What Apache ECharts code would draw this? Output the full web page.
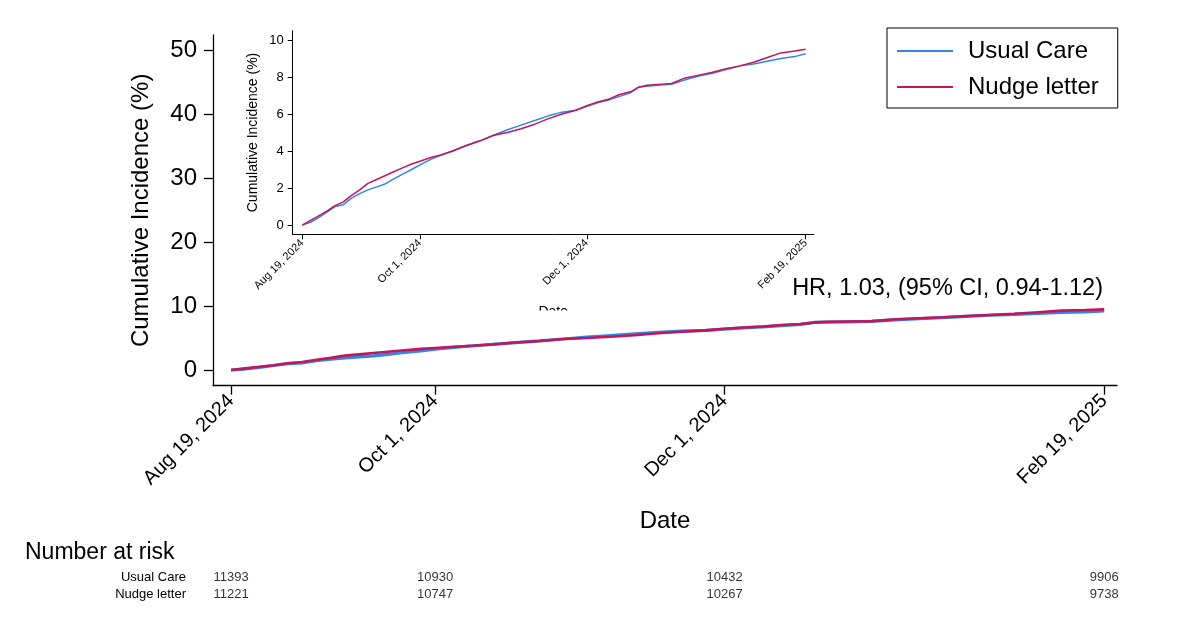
<!DOCTYPE html>
<html>
<head>
<meta charset="utf-8">
<script src="https://cdn.jsdelivr.net/npm/echarts@6/dist/echarts.min.js"></script>
<style>html,body{margin:0;padding:0;background:#fff}#c{width:1200px;height:630px}</style>
</head>
<body>
<div id="c"></div>
<script>
const days = [0,3,6,9,12,15,18,21,24,27,30,33,36,40,43,47,51,55,60,65,70,75,80,85,90,95,100,104,108,112,116,120,123,126,130,135,140,145,150,155,160,165,170,175,180,184];
const usualCare = [0,0.15,0.4,0.7,1.0,1.1,1.45,1.7,1.9,2.05,2.2,2.45,2.7,3.0,3.25,3.55,3.8,4.0,4.3,4.55,4.85,5.15,5.4,5.65,5.9,6.1,6.2,6.4,6.6,6.75,6.95,7.15,7.45,7.5,7.55,7.6,7.85,8.05,8.2,8.4,8.6,8.7,8.85,9.0,9.1,9.25];
const nudgeLetter = [0,0.25,0.5,0.75,1.05,1.25,1.6,1.9,2.25,2.45,2.65,2.85,3.05,3.3,3.45,3.65,3.8,4.0,4.3,4.55,4.85,5.0,5.2,5.45,5.75,6.0,6.2,6.45,6.65,6.8,7.05,7.2,7.45,7.55,7.6,7.65,7.95,8.1,8.25,8.45,8.6,8.8,9.05,9.3,9.4,9.5];
const tickDays = [0,43,104,184];
const tickLabels = ['Aug 19, 2024','Oct 1, 2024','Dec 1, 2024','Feb 19, 2025'];
const yTicksMain = [0,10,20,30,40,50];
const yTicksInset = [0,2,4,6,8,10];
const riskGroups = ['Usual Care','Nudge letter'];
const riskUsual = [11393,10930,10432,9906];
const riskNudge = [11221,10747,10267,9738];
const hrText = 'HR, 1.03, (95% CI, 0.94-1.12)';

const FONT = '"Liberation Sans", Arial, sans-serif';
const BLUE = '#2e86e8', RED = '#c5155a';
const dateFmt = v => { const i = tickDays.indexOf(Math.round(v)); return i >= 0 ? tickLabels[i] : ''; };

const chart = echarts.init(document.getElementById('c'), null, {renderer:'canvas'});

chart.setOption({
  animation:false,
  backgroundColor:'#fff',
  textStyle:{fontFamily:FONT, color:'#000'},
  title:[
    {text:hrText, right:97, top:277, padding:0, textStyle:{fontFamily:FONT, fontSize:23.5, fontWeight:'normal', color:'#000'}},
    {text:'Number at risk', left:25, top:541, padding:0, textStyle:{fontFamily:FONT, fontSize:23, fontWeight:'normal', color:'#000'}}
  ],
  legend:{
    data:['Usual Care','Nudge letter'], orient:'vertical', left:887, top:28,
    borderColor:'#000', borderWidth:1, padding:[11,19,9,10],
    icon:'rect', itemWidth:56, itemHeight:2, itemGap:12,
    textStyle:{fontFamily:FONT, fontSize:24, color:'#000', padding:[0,0,0,10]}
  },
  grid:[
    {left:213, top:35, width:904, height:350.7},
    {left:292.7, top:30.7, width:521.1, height:203.6},
    {left:213, top:568.5, width:904, height:34}
  ],
  xAxis:[
    {type:'value', gridIndex:0, min:-3.8, max:186.7, splitLine:{show:false},
     axisLine:{show:true, onZero:false, lineStyle:{color:'#000', width:1.3}},
     axisTick:{show:true, length:9, customValues:tickDays, lineStyle:{color:'#000', width:1.3}},
     axisLabel:{customValues:tickDays, formatter:dateFmt, rotate:45, fontSize:20, margin:12, color:'#000', fontFamily:FONT},
     name:'Date', nameLocation:'middle', nameGap:124, nameTextStyle:{fontSize:24, color:'#000', fontFamily:FONT}},
    {type:'value', gridIndex:1, min:-3.5, max:187, splitLine:{show:false},
     axisLine:{show:true, onZero:false, lineStyle:{color:'#000', width:1}},
     axisTick:{show:true, length:5, customValues:tickDays, lineStyle:{color:'#000'}},
     axisLabel:{customValues:tickDays, formatter:dateFmt, rotate:45, fontSize:11, margin:7, color:'#000', fontFamily:FONT},
     name:'Date', nameLocation:'middle', nameGap:71, nameTextStyle:{fontSize:14, color:'#000', fontFamily:FONT}},
    {type:'value', gridIndex:2, min:-3.8, max:186.7, show:false}
  ],
  yAxis:[
    {type:'value', gridIndex:0, min:-2.46, max:52.46, splitLine:{show:false},
     axisLine:{show:true, onZero:false, lineStyle:{color:'#000', width:1.3}},
     axisTick:{show:true, length:9, customValues:yTicksMain, lineStyle:{color:'#000', width:1.3}},
     axisLabel:{customValues:yTicksMain, fontSize:24, margin:16, color:'#000', fontFamily:FONT},
     name:'Cumulative Incidence (%)', nameLocation:'middle', nameGap:60, nameTextStyle:{fontSize:24, color:'#000', fontFamily:FONT}},
    {type:'value', gridIndex:1, min:-0.5, max:10.5, splitLine:{show:false},
     axisLine:{show:true, onZero:false, lineStyle:{color:'#000', width:1}},
     axisTick:{show:true, length:5, customValues:yTicksInset, lineStyle:{color:'#000'}},
     axisLabel:{customValues:yTicksInset, fontSize:13, margin:9, color:'#000', fontFamily:FONT},
     name:'Cumulative Incidence (%)', nameLocation:'middle', nameGap:33, nameTextStyle:{fontSize:14, color:'#000', fontFamily:FONT}},
    {type:'category', gridIndex:2, data:riskGroups, inverse:true,
     axisLine:{show:false}, axisTick:{show:false}, splitLine:{show:false},
     axisLabel:{fontSize:13, margin:27, color:'#000', fontFamily:FONT}}
  ],
  graphic:[
    {type:'rect', shape:{x:500, y:310.5, width:110, height:14}, style:{fill:'#fff'}, z:100}
  ],
  series:[
    {name:'Usual Care', type:'line', xAxisIndex:0, yAxisIndex:0, symbol:'none', color:BLUE,
     lineStyle:{width:3.2, color:BLUE}, data:days.map((d,i)=>[d,usualCare[i]])},
    {name:'Nudge letter', type:'line', xAxisIndex:0, yAxisIndex:0, symbol:'none', color:RED,
     lineStyle:{width:2.6, color:RED}, data:days.map((d,i)=>[d,nudgeLetter[i]])},
    {name:'Usual Care', type:'line', xAxisIndex:1, yAxisIndex:1, symbol:'none', color:BLUE,
     lineStyle:{width:1.5, color:BLUE}, data:days.map((d,i)=>[d,usualCare[i]])},
    {name:'Nudge letter', type:'line', xAxisIndex:1, yAxisIndex:1, symbol:'none', color:RED,
     lineStyle:{width:1.5, color:RED}, data:days.map((d,i)=>[d,nudgeLetter[i]])},
    {type:'scatter', xAxisIndex:2, yAxisIndex:2, symbolSize:1, itemStyle:{color:'rgba(0,0,0,0)'},
     label:{show:true, position:'inside', formatter:p=>String(p.value[2]), fontSize:13, color:'#000', fontFamily:FONT},
     data:tickDays.map((d,i)=>[d,riskGroups[0],riskUsual[i]]).concat(tickDays.map((d,i)=>[d,riskGroups[1],riskNudge[i]]))}
  ]
});
</script>
</body>
</html>
